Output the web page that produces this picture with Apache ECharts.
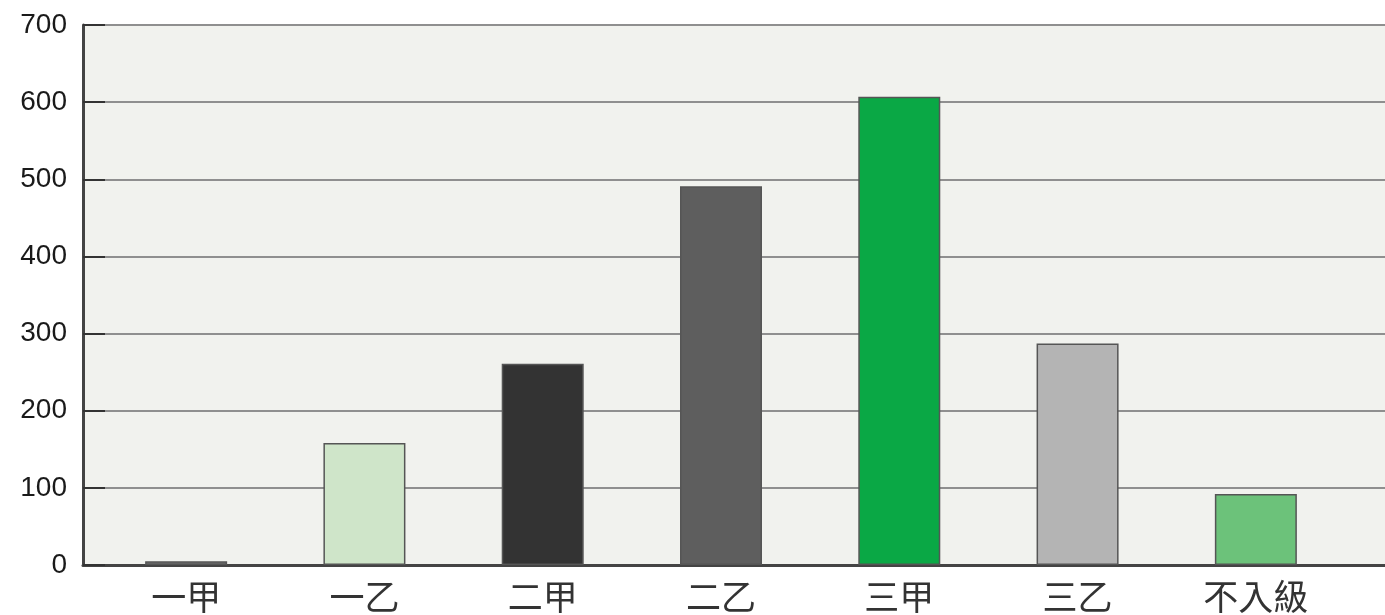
<!DOCTYPE html>
<html>
<head>
<meta charset="utf-8">
<script src="https://cdn.jsdelivr.net/npm/echarts@6/dist/echarts.min.js"></script>
<style>
html,body{margin:0;padding:0;background:#fff;}
#c{width:1385px;height:615px;}
</style>
</head>
<body>
<div id="c"></div>
<script>
const categories = ['一甲','一乙','二甲','二乙','三甲','三乙','不入級'];
const values = [5, 158, 261, 491, 607, 287, 92];
const barColors = ['#707070','#cfe5c9','#333333','#5e5e5e','#0aa845','#b4b4b4','#6cc27a'];
const yTicks = [0, 100, 200, 300, 400, 500, 600, 700];

const chart = echarts.init(document.getElementById('c'));
chart.setOption({
  animation: false,
  backgroundColor: '#ffffff',
  grid: [
    {left: 83, right: 0, top: 25, bottom: 50, show: true, backgroundColor: '#f1f2ee', borderWidth: 0},
    {left: 97, width: 1248, top: 25, bottom: 50, show: false}
  ],
  xAxis: [
    {gridIndex: 0, type: 'value', min: 0, max: 1, show: true,
      axisLine: {show: true, onZero: false, lineStyle: {color: '#444', width: 3}},
      axisTick: {show: false}, axisLabel: {show: false}, splitLine: {show: false}},
    {gridIndex: 1, type: 'category', data: categories,
      axisLine: {show: false}, axisTick: {show: false},
      axisLabel: {color: '#333', fontSize: 35, margin: 14,
        fontFamily: '"Noto Sans CJK TC", "Noto Sans CJK SC", sans-serif'}}
  ],
  yAxis: [
    {gridIndex: 0, type: 'value', min: 0, max: 700, interval: 100,
      axisLine: {show: true, lineStyle: {color: '#444', width: 3}},
      axisTick: {show: true, inside: true, length: 22, lineStyle: {color: '#333', width: 2}},
      axisLabel: {color: '#1a1a1a', fontSize: 28, margin: 16, padding: [8, 0, 0, 0],
        fontFamily: 'Liberation Sans, Arial, sans-serif',
        formatter: v => yTicks.includes(v) ? String(v) : ''},
      splitLine: {show: true, lineStyle: {color: '#8f8f8f', width: 2}}},
    {gridIndex: 1, type: 'value', min: 0, max: 700, show: false, splitLine: {show: false}}
  ],
  series: [{
    type: 'bar',
    xAxisIndex: 1, yAxisIndex: 1,
    barWidth: 82,
    data: values.map((v, i) => ({value: v, itemStyle: {color: barColors[i]}})),
    itemStyle: {borderColor: '#555', borderWidth: 1.5}
  }]
});
</script>
</body>
</html>
